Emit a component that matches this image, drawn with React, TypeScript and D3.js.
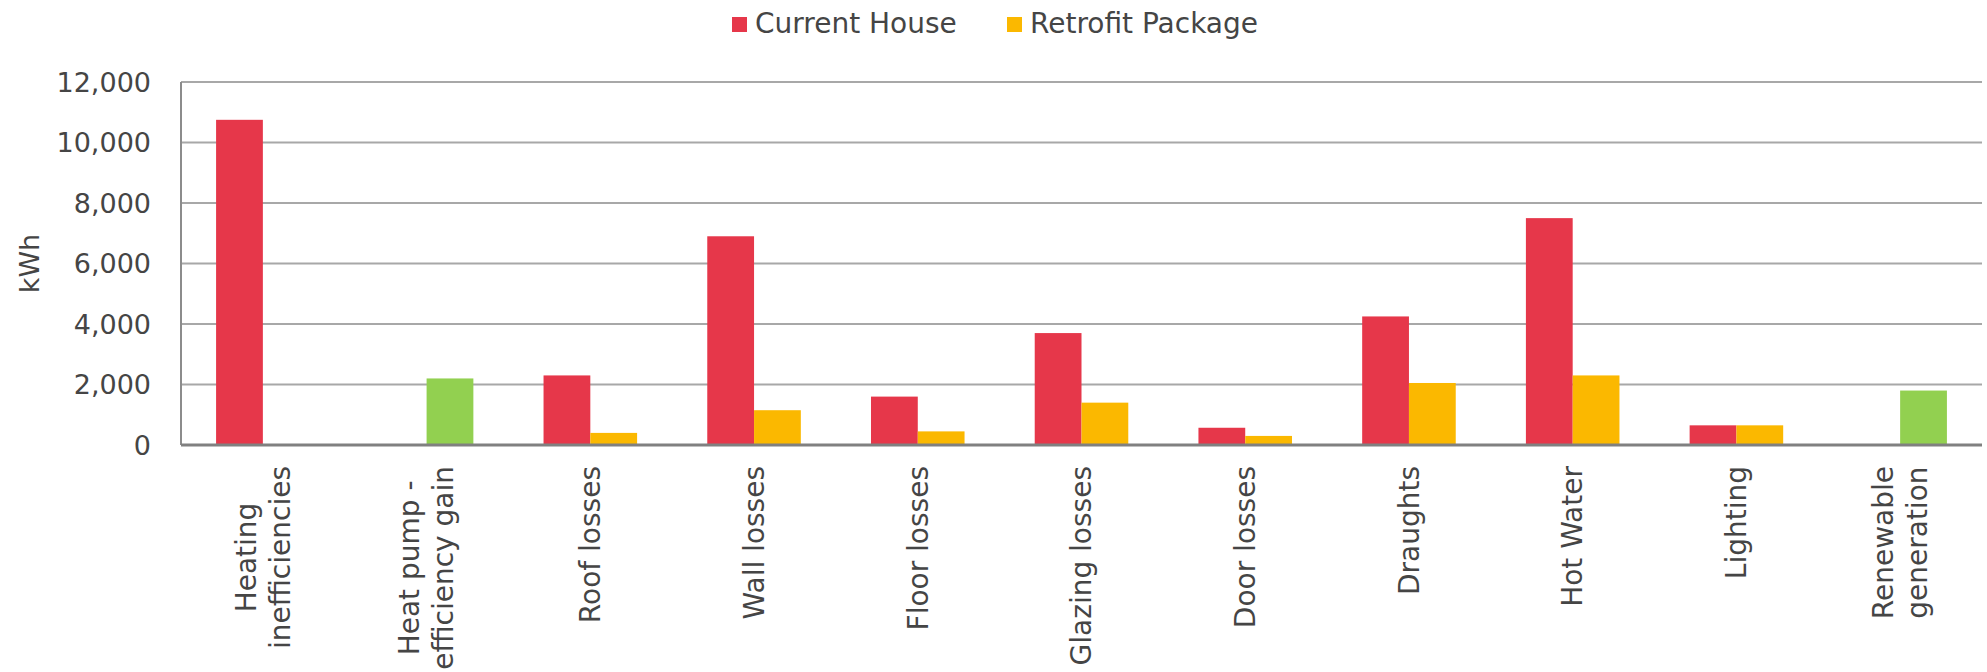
import React, { useEffect, useRef } from 'react';
import * as d3 from 'd3';

// category labels, one entry per line
const categories = [
  ['Heating', 'inefficiencies'],
  ['Heat pump -', 'efficiency gain'],
  ['Roof losses'],
  ['Wall losses'],
  ['Floor losses'],
  ['Glazing losses'],
  ['Door losses'],
  ['Draughts'],
  ['Hot Water'],
  ['Lighting'],
  ['Renewable', 'generation']
];
const currentHouse = [10750, 0, 2300, 6900, 1600, 3700, 570, 4250, 7500, 650, 0];
const retrofitPackage = [0, 2200, 400, 1150, 450, 1400, 300, 2050, 2300, 650, 1800];
// retrofit bars drawn in green for these
const greenCategories = ['Heat pump - efficiency gain', 'Renewable generation'];
const seriesNames = ['Current House', 'Retrofit Package'];
const yTicks = [0, 2000, 4000, 6000, 8000, 10000, 12000];

const FONT = "'DejaVu Sans', sans-serif";
const TEXT = '#454545';
const RED = '#E6374A';
const YELLOW = '#FBB800';
const GREEN = '#92D050';

function App() {
  const ref = useRef<SVGSVGElement>(null);

  useEffect(() => {
    const left = 181,
      right = 1982,
      top = 82,
      bottom = 445;

    const svg = d3.select(ref.current);
    svg.selectAll('*').remove();

    const names = categories.map(c => c.join(' '));

    const x0 = d3.scaleBand<string>().domain(names).range([left, right]);
    // gap width 150% like excel
    const x1 = d3.scaleBand<string>()
      .domain(seriesNames)
      .range([0, x0.bandwidth()])
      .paddingInner(0)
      .paddingOuter(0.75);
    const y = d3.scaleLinear().domain([0, 12000]).range([bottom, top]);

    // gridlines
    svg.append('g')
      .selectAll('line')
      .data(yTicks.filter(t => t > 0))
      .enter()
      .append('line')
        .attr('x1', left)
        .attr('x2', right)
        .attr('y1', d => y(d))
        .attr('y2', d => y(d))
        .attr('stroke', '#a8a8a8')
        .attr('stroke-width', 2);

    // left axis line
    svg.append('line')
      .attr('x1', left).attr('x2', left)
      .attr('y1', y(12000)).attr('y2', y(0))
      .attr('stroke', '#8c8c8c')
      .attr('stroke-width', 2);

    // y tick labels
    svg.append('g')
      .selectAll('text')
      .data(yTicks)
      .enter()
      .append('text')
        .attr('x', 151)
        .attr('y', d => y(d))
        .attr('dy', '0.36em')
        .attr('text-anchor', 'end')
        .attr('font-family', FONT)
        .attr('font-size', 27)
        .attr('fill', TEXT)
        .text(d => d3.format(',')(d));

    // y axis title
    svg.append('text')
      .attr('transform', 'translate(39,' + (top + bottom) / 2 + ') rotate(-90)')
      .attr('text-anchor', 'middle')
      .attr('font-family', FONT)
      .attr('font-size', 27)
      .attr('fill', TEXT)
      .text('kWh');

    // bars
    const rows = names.map((n, i) => ({ name: n, values: [currentHouse[i], retrofitPackage[i]] }));
    const groups = svg.append('g')
      .selectAll('g')
      .data(rows)
      .enter()
      .append('g')
        .attr('transform', d => 'translate(' + x0(d.name) + ',0)');

    groups.selectAll('rect')
      .data(d => d.values.map((v, j) => ({ cat: d.name, series: seriesNames[j], value: v })))
      .enter()
      .append('rect')
        .attr('x', d => x1(d.series) as number)
        .attr('width', x1.bandwidth())
        .attr('y', d => y(d.value))
        .attr('height', d => y(0) - y(d.value))
        .attr('fill', d => {
          if (d.series === seriesNames[0]) return RED;
          return greenCategories.indexOf(d.cat) >= 0 ? GREEN : YELLOW;
        });

    // baseline
    svg.append('line')
      .attr('x1', left).attr('x2', right)
      .attr('y1', y(0)).attr('y2', y(0))
      .attr('stroke', '#808080')
      .attr('stroke-width', 3);

    // category labels, rotated and centred
    const lineGap = 34;
    const labelTop = 466;
    const labels = svg.append('g')
      .selectAll('g')
      .data(categories)
      .enter()
      .append('g')
        .attr('font-family', FONT)
        .attr('font-size', 28)
        .attr('fill', TEXT);

    labels.each(function(lines, i) {
      const g = d3.select(this);
      const cx = (x0(names[i]) as number) + x0.bandwidth() / 2;
      const t = g.append('text')
        .attr('text-anchor', 'middle');
      lines.forEach(l => t.append('tspan').text(l));
      // measure longest line to find label centre
      let maxLen = 0;
      t.selectAll('tspan').each(function() {
        maxLen = Math.max(maxLen, (this as SVGTSpanElement).getComputedTextLength());
      });
      const cy = labelTop + maxLen / 2;
      t.attr('transform', 'translate(' + cx + ',' + cy + ') rotate(-90)');
      t.selectAll('tspan')
        .attr('x', 0)
        .attr('y', (d, k) => (k - (lines.length - 1) / 2) * lineGap)
        .attr('dy', '0.35em');
    });

    // legend
    const legendX = [732, 1007];
    const legend = svg.append('g')
      .selectAll('g')
      .data(seriesNames)
      .enter()
      .append('g')
        .attr('transform', (d, i) => 'translate(' + legendX[i] + ',0)');
    legend.append('rect')
      .attr('x', 0).attr('y', 17)
      .attr('width', 15).attr('height', 15)
      .attr('fill', (d, i) => (i === 0 ? RED : YELLOW));
    legend.append('text')
      .attr('x', 23).attr('y', 33)
      .attr('font-family', FONT)
      .attr('font-size', 28)
      .attr('fill', TEXT)
      .text(d => d);
  }, []);

  return (
    <svg
      ref={ref}
      width={1987}
      height={672}
      style={{ position: 'absolute', left: 0, top: 0, background: '#fff' }}
    />
  );
}

export default App;
